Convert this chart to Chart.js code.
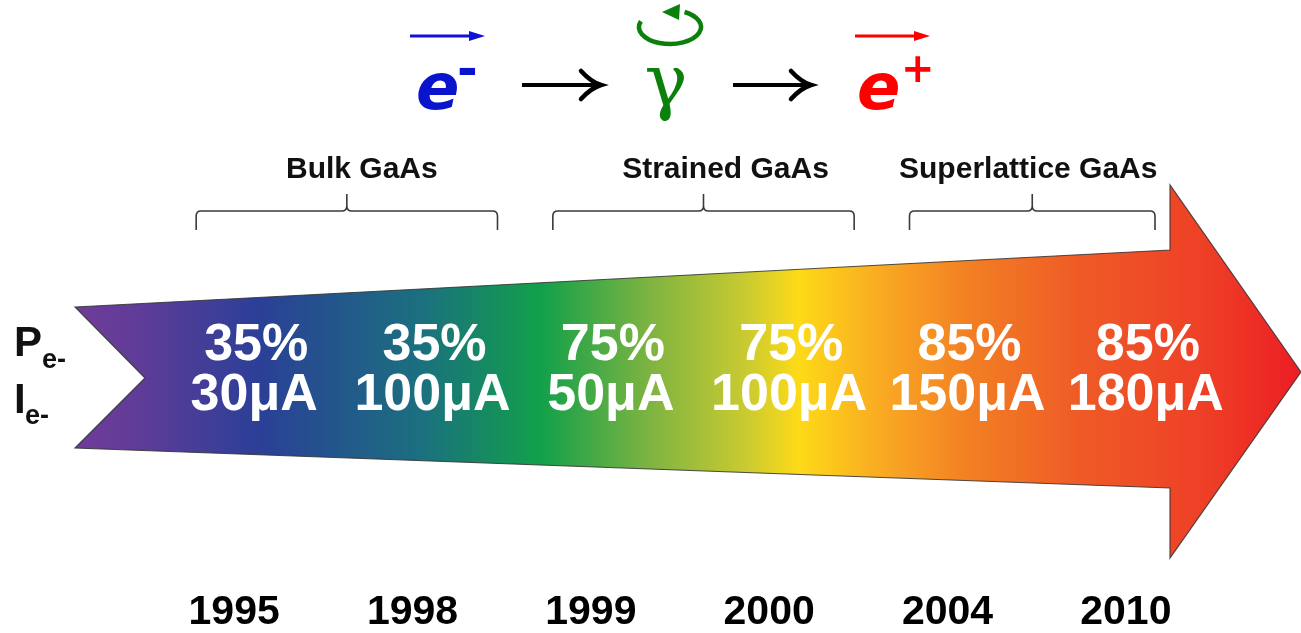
<!DOCTYPE html>
<html lang="en">
<head>
<meta charset="UTF-8">
<title>Polarized electron source: e- → γ → e+</title>
<style>
  html, body { margin: 0; padding: 0; background: #fff; }
  #wrap { width: 1301px; height: 633px; position: relative; }
</style>
</head>
<body>
<div id="wrap"><canvas id="chart"></canvas></div>

<script src="https://cdn.jsdelivr.net/npm/chart.js"></script>
<script>
// values
const years = ['1995', '1998', '1999', '2000', '2004', '2010'];
const polarization = [35, 35, 75, 75, 85, 85];   // P_e- (%)
const current = [30, 100, 50, 100, 150, 180];     // I_e- (µA)

// cathode generations, as index ranges into years
const groupNames = ['Bulk GaAs', 'Strained GaAs', 'Superlattice GaAs'];
const groupFirst = [0, 2, 4];
const groupLast = [1, 3, 5];

const SANS = '"Liberation Sans", Arial, sans-serif';

function drawArrow(ctx, chart) {
    const W = chart.width;
    const base = W - 131;
    const pts = [[75, 307], [base, 250], [base, 185], [W, 372],
                 [base, 558], [base, 488], [75, 448], [145, 378]];
    const g = ctx.createLinearGradient(75, 0, W, 0);
    const stops = [
        [0.00, '#703d98'], [0.05, '#603c98'], [0.15, '#2b3f97'],
        [0.28, '#1b6f80'], [0.38, '#12a04a'], [0.47, '#7fb441'],
        [0.55, '#cccb30'], [0.59, '#fdda17'], [0.66, '#f9a823'],
        [0.73, '#f27f23'], [0.82, '#ef5a27'], [0.92, '#ee4026'],
        [1.00, '#ec1d25']
    ];
    stops.forEach(s => g.addColorStop(s[0], s[1]));
    ctx.save();
    ctx.beginPath();
    pts.forEach((p, i) => i ? ctx.lineTo(p[0], p[1]) : ctx.moveTo(p[0], p[1]));
    ctx.closePath();
    ctx.fillStyle = g;
    ctx.fill();
    ctx.lineWidth = 1.2;
    ctx.strokeStyle = 'rgba(50,50,50,0.85)';
    ctx.stroke();
    ctx.restore();
}

function drawBracket(ctx, x0, x1, y, h) {
    const xm = (x0 + x1) / 2, r = 5;
    ctx.beginPath();
    ctx.moveTo(x0, y + h);
    ctx.lineTo(x0, y + r);
    ctx.quadraticCurveTo(x0, y, x0 + r, y);
    ctx.lineTo(xm - r, y);
    ctx.quadraticCurveTo(xm, y, xm, y - r);
    ctx.lineTo(xm, y - 17);
    ctx.moveTo(xm, y - r);
    ctx.quadraticCurveTo(xm, y, xm + r, y);
    ctx.lineTo(x1 - r, y);
    ctx.quadraticCurveTo(x1, y, x1, y + r);
    ctx.lineTo(x1, y + h);
    ctx.stroke();
}

function overArrow(ctx, x0, x1, y, color) {
    ctx.save();
    ctx.strokeStyle = color;
    ctx.fillStyle = color;
    ctx.lineWidth = 3;
    ctx.beginPath();
    ctx.moveTo(x0, y);
    ctx.lineTo(x1 - 10, y);
    ctx.stroke();
    ctx.beginPath();
    ctx.moveTo(x1, y);
    ctx.lineTo(x1 - 16, y - 5);
    ctx.lineTo(x1 - 16, y + 5);
    ctx.closePath();
    ctx.fill();
    ctx.restore();
}

function reactionArrow(ctx, x0, x1, y) {
    ctx.save();
    ctx.strokeStyle = '#000';
    ctx.lineWidth = 4;
    ctx.beginPath();
    ctx.moveTo(x0, y);
    ctx.lineTo(x1 - 3, y);
    ctx.stroke();
    ctx.lineWidth = 4.5;
    ctx.lineCap = 'round';
    ctx.beginPath();
    ctx.moveTo(x1 - 20, y - 14);
    ctx.quadraticCurveTo(x1 - 10, y - 3, x1, y);
    ctx.quadraticCurveTo(x1 - 10, y + 3, x1 - 20, y + 14);
    ctx.stroke();
    ctx.restore();
}

const infographic = {
    id: 'infographic',
    beforeDatasetsDraw(chart) {
        drawArrow(chart.ctx, chart);
    },
    afterDatasetsDraw(chart) {
        const ctx = chart.ctx;
        const pts = chart.getDatasetMeta(0).data;

        // values inside the arrow
        ctx.save();
        ctx.fillStyle = '#fff';
        ctx.textAlign = 'center';
        ctx.textBaseline = 'middle';
        ctx.font = 'bold 52px ' + SANS;
        pts.forEach((p, i) => {
            ctx.fillText(polarization[i] + '%', p.x + 2, 346);
            ctx.fillText(current[i] + 'μA', p.x, 396);
        });
        ctx.restore();

        // generation brackets
        ctx.save();
        ctx.strokeStyle = '#3a3a3a';
        ctx.lineWidth = 1.6;
        ctx.fillStyle = '#111';
        ctx.textAlign = 'center';
        ctx.textBaseline = 'middle';
        ctx.font = 'bold 30px ' + SANS;
        const labelShift = [15, 22, -4];
        const headBase = chart.width - 131 - 15;
        groupNames.forEach((name, k) => {
            const x0 = pts[groupFirst[k]].x - 58;
            const x1 = Math.min(pts[groupLast[k]].x + 65, headBase);
            drawBracket(ctx, x0, x1, 211, 19);
            ctx.fillText(name, (x0 + x1) / 2 + labelShift[k], 170);
        });
        ctx.restore();

        // row labels P_e- and I_e-
        ctx.save();
        ctx.fillStyle = '#111';
        ctx.textBaseline = 'alphabetic';
        ctx.font = 'bold 42px ' + SANS;
        ctx.fillText('P', 14, 356);
        ctx.fillText('I', 14, 413);
        ctx.font = 'bold 27px ' + SANS;
        ctx.fillText('e-', 42, 368);
        ctx.fillText('e-', 25, 424);
        ctx.restore();

        // e- -> gamma -> e+
        ctx.save();
        ctx.textBaseline = 'alphabetic';
        ctx.font = 'italic bold 64px "DejaVu Sans", sans-serif';
        ctx.fillStyle = '#0a14cc';
        ctx.fillText('e', 416, 109);
        ctx.fillStyle = '#f00';
        ctx.fillText('e', 857, 109);
        ctx.font = 'bold 50px "DejaVu Sans", sans-serif';
        ctx.fillStyle = '#0a14cc';
        ctx.fillText('-', 457, 86);
        ctx.font = 'bold 40px "DejaVu Sans", sans-serif';
        ctx.fillStyle = '#f00';
        ctx.fillText('+', 901, 82);
        overArrow(ctx, 410, 485, 36, '#1010d8');
        overArrow(ctx, 855, 930, 36, '#f00');
        reactionArrow(ctx, 522, 601, 85);
        reactionArrow(ctx, 733, 811, 85);

        ctx.fillStyle = '#0b800b';
        ctx.textAlign = 'center';
        ctx.font = '72px "DejaVu Serif", "Liberation Serif", serif';
        ctx.fillText('γ', 666, 106);
        ctx.strokeStyle = '#0b800b';
        ctx.lineWidth = 4.5;
        ctx.beginPath();
        ctx.ellipse(670, 27, 31, 17, 0, 200 * Math.PI / 180, -62 * Math.PI / 180, true);
        ctx.stroke();
        ctx.beginPath();
        ctx.moveTo(662, 12);
        ctx.lineTo(680, 4);
        ctx.lineTo(679, 20);
        ctx.closePath();
        ctx.fill();
        ctx.restore();
    }
};

new Chart(document.getElementById('chart'), {
    type: 'line',
    data: {
        labels: years,
        datasets: [{
            data: polarization,
            showLine: false,
            pointRadius: 0
        }]
    },
    options: {
        responsive: true,
        maintainAspectRatio: false,
        animation: false,
        layout: { padding: { left: 165, right: 66, top: 0, bottom: 0 } },
        plugins: { legend: { display: false }, tooltip: { enabled: false } },
        scales: {
            x: {
                type: 'category',
                offset: true,
                grid: { display: false, drawTicks: false },
                border: { display: false },
                ticks: {
                    color: '#000',
                    padding: 0,
                    labelOffset: -20,
                    font: { family: SANS, size: 41, weight: 'bold', lineHeight: 1.0 }
                }
            },
            y: { display: false, min: 0, max: 100 }
        }
    },
    plugins: [infographic]
});
</script>
</body>
</html>
